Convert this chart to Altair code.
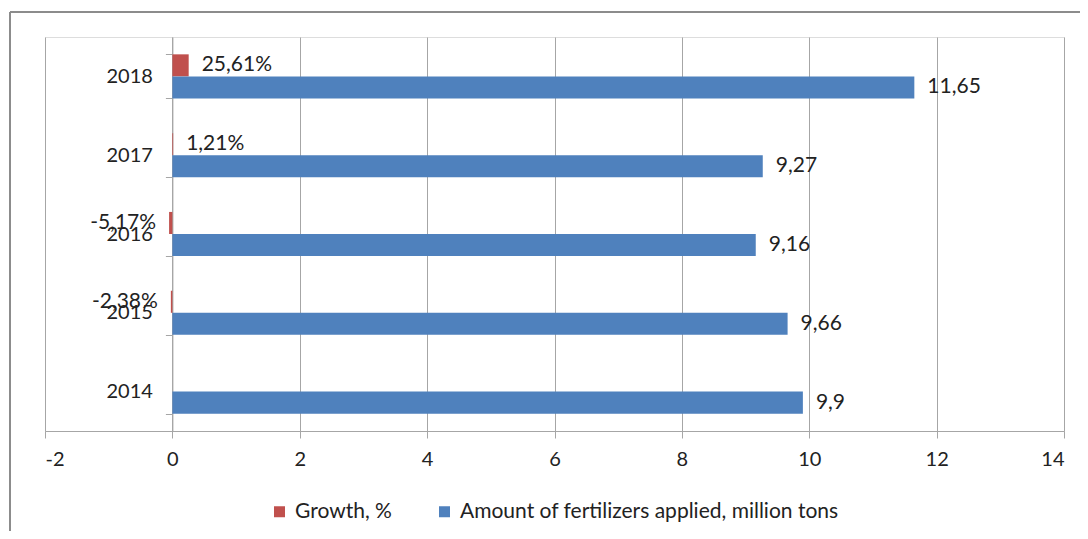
import altair as alt
import pandas as pd

years = ["2014", "2015", "2016", "2017", "2018"]
growth_pct = [None, -2.38, -5.17, 1.21, 25.61]
amount = [9.9, 9.66, 9.16, 9.27, 11.65]
series = ["Growth, %", "Amount of fertilizers applied, million tons"]
colors = ["#C0504D", "#4F81BD"]

rows = []
for y, g, a in zip(years, growth_pct, amount):
    if g is not None:
        rows.append({"year": y, "series": series[0], "value": g / 100,
                     "label": f"{g:.2f}".replace(".", ",") + "%"})
    rows.append({"year": y, "series": series[1], "value": a,
                 "label": f"{a:g}".replace(".", ",")})
df = pd.DataFrame(rows)

FONT = "Lato"
W, H = 1019, 394

x_enc = alt.X("value:Q",
              scale=alt.Scale(domain=[-2, 14], nice=False, zero=False),
              axis=alt.Axis(values=list(range(-2, 15, 2)), title=None,
                            labelExpr="toString(datum.value)",
                            grid=True, gridColor="#a6a6a6", gridWidth=1,
                            domainColor="#a6a6a6", tickColor="#a6a6a6",
                            tickSize=7, labelPadding=11, labelFontSize=20,
                            labelFont=FONT, labelColor="#222222"))
y_enc = alt.Y("year:N", sort="descending",
              scale=alt.Scale(paddingInner=0.44, paddingOuter=0.22),
              axis=alt.Axis(title=None, offset=-127.4, grid=False,
                            domainColor="#a6a6a6", tickColor="#a6a6a6",
                            tickSize=7, tickBand="extent", labelPadding=13,
                            labelFontSize=20, labelFont=FONT,
                            labelColor="#222222"))
yoff = alt.YOffset("series:N", sort=series, scale=alt.Scale(domain=series, padding=0, paddingInner=0))
color = alt.Color("series:N", sort=series,
                  scale=alt.Scale(domain=series, range=colors),
                  legend=alt.Legend(title=None, orient="none", direction="horizontal",
                                    legendX=224, legendY=464, symbolType="square",
                                    symbolSize=121, symbolStrokeWidth=0,
                                    labelFontSize=21, labelFont=FONT, labelLimit=600,
                                    labelColor="#222222", labelOffset=5,
                                    columnPadding=42))

base = alt.Chart(df)
bars = base.mark_bar().encode(x=x_enc, y=y_enc, yOffset=yoff, color=color)
txt_pos = base.transform_filter("datum.value >= 0").mark_text(
    align="left", baseline="middle", dx=13, font=FONT, fontSize=21, color="#222222"
).encode(x="value:Q", y=alt.Y("year:N", sort="descending"),
         yOffset=alt.YOffset("series:N", sort=series), text="label:N")
txt_neg = base.transform_filter("datum.value < 0").mark_text(
    align="right", baseline="middle", dx=-13, font=FONT, fontSize=21, color="#222222"
).encode(x="value:Q", y=alt.Y("year:N", sort="descending"),
         yOffset=alt.YOffset("series:N", sort=series), text="label:N")

frame_df = pd.DataFrame({"k": [0]})
frame_left = alt.Chart(frame_df).mark_rule(color="#8c8c8c", strokeWidth=2).encode(
    x=alt.value(-35), y=alt.value(-25), y2=alt.value(494))
frame_top = alt.Chart(frame_df).mark_rule(color="#8c8c8c", strokeWidth=2).encode(
    x=alt.value(-35), x2=alt.value(1035), y=alt.value(-25))

chart = alt.layer(bars, txt_pos, txt_neg, frame_left, frame_top).properties(
    width=W, height=H,
    autosize=alt.AutoSizeParams(type="none"),
    padding={"left": 37, "top": 29, "right": 16, "bottom": 100},
).configure_view(stroke=None).configure(background="white")

chart.save("out.html", embed_options={"renderer": "svg", "actions": False})
